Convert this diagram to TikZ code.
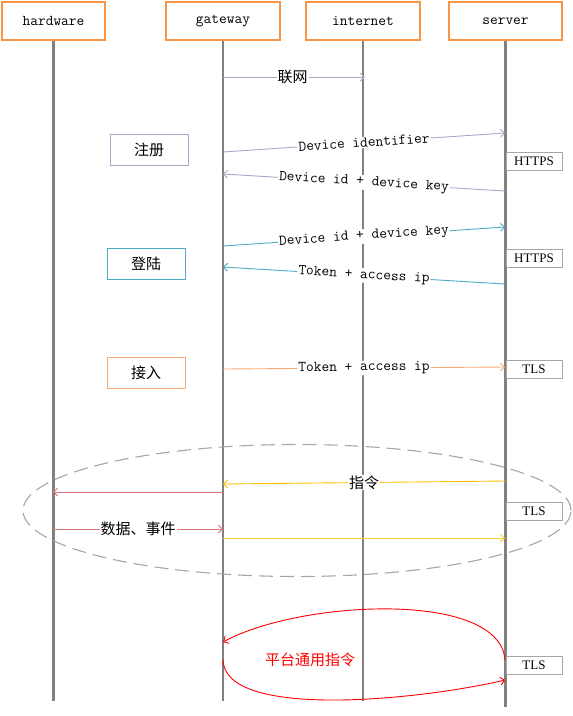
\documentclass[tikz,border=0pt]{standalone}
\usepackage{fontspec}
\setmainfont{Liberation Serif}
\newfontfamily\cjk{Noto Sans CJK SC}
\usepackage{tikz}
\usetikzlibrary{arrows.meta, positioning}
\definecolor{headorange}{RGB}{247,150,70}
\definecolor{lifegray}{RGB}{128,128,128}
\definecolor{regpurple}{RGB}{179,162,199}
\definecolor{loginteal}{RGB}{75,172,198}
\definecolor{accorange}{RGB}{248,170,120}
\definecolor{cmdgold}{RGB}{255,192,0}
\definecolor{datarose}{RGB}{220,120,120}
\tikzset{>={Straight Barb[length=4pt,width=8pt]}}

\begin{document}
\begin{tikzpicture}[x=1pt, y=-1pt, line width=0.9pt,
    head/.style={draw=headorange, line width=1.6pt, minimum height=38pt, font=\ttfamily\fontsize{15}{15}\selectfont},
    life/.style={draw=lifegray, line width=2.8pt},
    phase/.style={draw, line width=1pt, minimum width=78pt, minimum height=31pt, font=\cjk\fontsize{15}{15}\selectfont},
    proto/.style={draw=lifegray!70, line width=1pt, minimum width=56pt, minimum height=18pt, inner sep=0pt, font=\fontsize{13}{13}\selectfont},
    msg/.style={fill=white, text=black, inner sep=1pt, font=\ttfamily\fontsize{15}{15}\selectfont},
    cmsg/.style={fill=white, text=black, inner sep=1pt, font=\cjk\fontsize{15}{15}\selectfont}]

      \useasboundingbox (0,0) rectangle (573,716);

      % actors
      \node[head, minimum width=103pt]	(hw)	at	(53.5,21)	{hardware};
      \node[head, minimum width=114pt]	(gw)	at	(223,21)	{gateway};
      \node[head, minimum width=114pt]	(inet)	at	(363,21)	{internet};
      \node[head, minimum width=113pt]	(srv)	at	(505.5,21)	{server};

      \draw[life] (hw.south) -- ++(0,660);
      \draw[life] (gw.south) -- ++(0,660);
      \draw[life] (inet.south) -- ++(0,660);
      \draw[life] (srv.south) -- ++(0,666);

      % stages
      \node[phase, draw=regpurple]	(reg)	at	(149,150)	{注册};
      \node[phase, draw=loginteal]	(login)	at	(146,264)	{登陆};
      \node[phase, draw=accorange]	(acc)	at	(146,372.5)	{接入};

      \node[proto]	(p1)	at	(534,161.5)	{HTTPS};
      \node[proto]	(p2)	at	(534,258)	{HTTPS};
      \node[proto]	(p3)	at	(534,369)	{TLS};
      \node[proto]	(p4)	at	(534,511)	{TLS};
      \node[proto]	(p5)	at	(534,665)	{TLS};

      % message ends
      \coordinate (g0) at (223,77);   \coordinate (i0) at (365,77);
      \coordinate (g1) at (223,152);  \coordinate (s1) at (505,133);
      \coordinate (s2) at (505,191);  \coordinate (g2) at (223,174);
      \coordinate (g3) at (223,246);  \coordinate (s3) at (505,227);
      \coordinate (s4) at (505,284);  \coordinate (g4) at (223,267);
      \coordinate (g5) at (223,369);  \coordinate (s5) at (505,367);
      \coordinate (s6) at (505,481);  \coordinate (g6) at (223,484);
      \coordinate (g7) at (223,492);  \coordinate (h7) at (53,492);
      \coordinate (h8) at (53,529);   \coordinate (g8) at (223,529);
      \coordinate (g9) at (223,538);  \coordinate (s9) at (505,538);
      \coordinate (s10) at (505,660); \coordinate (g10) at (223,642);
      \coordinate (g11) at (223,660); \coordinate (s11) at (505,680);

      \draw[->, regpurple] (g0) to node[cmsg, pos=0.49]{联网} (i0);

      \draw[->, regpurple] (g1) to node[msg, sloped]{Device identifier} (s1);
      \draw[->, regpurple] (s2) to node[msg, sloped]{Device id + device key} (g2);

      \draw[->, loginteal] (g3) to node[msg, sloped]{Device id + device key} (s3);
      \draw[->, loginteal] (s4) to node[msg, sloped]{Token + access ip} (g4);

      \draw[->, accorange] (g5) to node[msg, sloped]{Token + access ip} (s5);

      % command / data loop
      \draw[lifegray!70, line width=1.1pt, dash pattern=on 14pt off 7pt] (297,510.5) ellipse (274pt and 66pt);
      \draw[->, cmdgold] (s6) to node[cmsg]{指令} (g6);
      \draw[->, datarose] (g7) to (h7);
      \draw[->, datarose] (h8) to node[cmsg]{数据、事件} (g8);
      \draw[->, cmdgold!80] (g9) to (s9);

      % platform command
      \draw[->, red] (s10) .. controls (500,590) and (300,600) .. (g10);
      \draw[->, red] (g11) .. controls (225,720) and (420,700) .. (s11);
      \node[red, font=\cjk\fontsize{15}{15}\selectfont] (plat) at (310,660) {平台通用指令};
\end{tikzpicture}
\end{document}
